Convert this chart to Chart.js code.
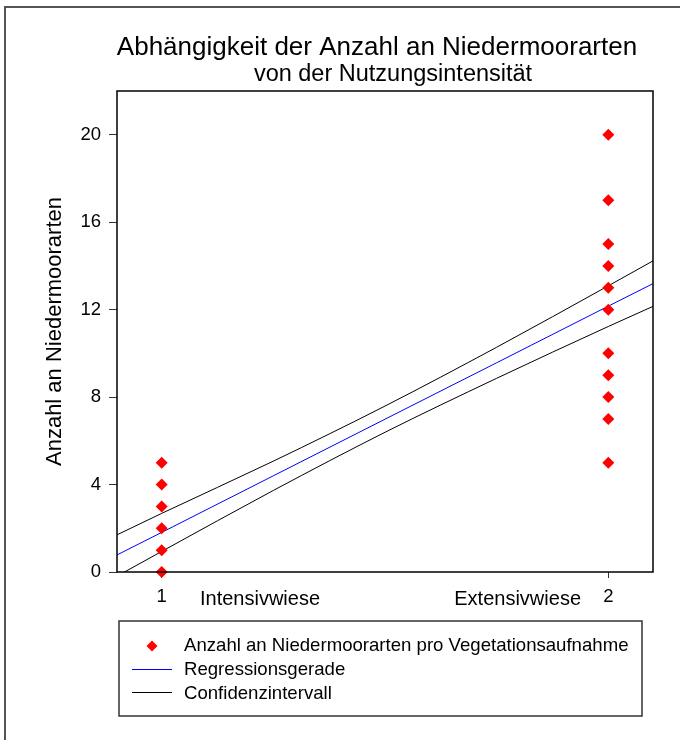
<!DOCTYPE html>
<html>
<head>
<meta charset="utf-8">
<script src="https://cdn.jsdelivr.net/npm/chart.js@4"></script>
<style>
  html, body { margin: 0; padding: 0; background: #fff; }
  #wrap { width: 680px; height: 740px; }
</style>
</head>
<body>
<div id="wrap"><canvas id="chart" width="680" height="740"></canvas></div>
<script>
// Data
const titleLines = ['Abhängigkeit der Anzahl an Niedermoorarten', 'von der Nutzungsintensität'];
const yAxisTitle = 'Anzahl an Niedermoorarten';
const xTicks = [1, 2];
const xGroupLabels = ['Intensivwiese', 'Extensivwiese'];
const yTicks = [0, 4, 8, 12, 16, 20];
const seriesNames = ['Anzahl an Niedermoorarten pro Vegetationsaufnahme', 'Regressionsgerade', 'Confidenzintervall'];

const intensivValues = [0, 1, 2, 3, 4, 5];
const extensivValues = [5, 7, 8, 9, 10, 12, 13, 14, 15, 17, 20];

const lineX = [0.9, 1.0, 1.25, 1.5, 1.75, 2.0, 2.1];
const regression = [0.78, 1.81, 4.40, 6.99, 9.57, 12.16, 13.19];
const ciUpper = [1.70, 2.68, 5.07, 7.59, 10.28, 13.09, 14.23];
const ciLower = [-0.19, 0.94, 3.73, 6.39, 8.86, 11.23, 12.15];

const FONT = 'Arial, "Liberation Sans", sans-serif';

const points = intensivValues.map(v => ({x: xTicks[0], y: v}))
    .concat(extensivValues.map(v => ({x: xTicks[1], y: v})));
const toXY = arr => arr.map((v, i) => ({x: lineX[i], y: v}));

// Frame, titles, group labels and legend
const decorations = {
    id: 'decorations',
    afterDraw(chart) {
        const ctx = chart.ctx;
        const area = chart.chartArea;
        ctx.save();

        // outer frame
        ctx.strokeStyle = '#555';
        ctx.lineWidth = 2;
        ctx.strokeRect(5, 7, 700, 800);

        // plot box
        ctx.strokeStyle = '#000';
        ctx.lineWidth = 1.5;
        ctx.strokeRect(area.left, area.top, area.right - area.left, area.bottom - area.top);

        // title
        ctx.fillStyle = '#000';
        ctx.textAlign = 'center';
        ctx.textBaseline = 'alphabetic';
        ctx.font = '26px ' + FONT;
        ctx.fillText(titleLines[0], 377, 55);
        ctx.font = '23.5px ' + FONT;
        ctx.fillText(titleLines[1], 393, 81);

        // y axis title
        ctx.save();
        ctx.translate(55, (area.top + area.bottom) / 2);
        ctx.rotate(-Math.PI / 2);
        ctx.textBaseline = 'middle';
        ctx.font = '22px ' + FONT;
        ctx.fillText(yAxisTitle, 0, 0);
        ctx.restore();

        // group labels next to the x ticks
        ctx.font = '20px ' + FONT;
        ctx.textAlign = 'left';
        ctx.fillText(xGroupLabels[0], 200, 605);
        ctx.textAlign = 'right';
        ctx.fillText(xGroupLabels[1], 581, 605);

        // legend
        ctx.strokeStyle = '#333';
        ctx.lineWidth = 1.5;
        ctx.strokeRect(119, 621, 523, 95);
        ctx.fillStyle = '#ff0000';
        ctx.beginPath();
        ctx.moveTo(152, 640.5);
        ctx.lineTo(157.5, 646);
        ctx.lineTo(152, 651.5);
        ctx.lineTo(146.5, 646);
        ctx.closePath();
        ctx.fill();
        ctx.lineWidth = 1;
        ctx.strokeStyle = '#0000ff';
        ctx.beginPath();
        ctx.moveTo(132, 669.5);
        ctx.lineTo(172, 669.5);
        ctx.stroke();
        ctx.strokeStyle = '#000';
        ctx.beginPath();
        ctx.moveTo(132, 692.5);
        ctx.lineTo(172, 692.5);
        ctx.stroke();
        ctx.fillStyle = '#000';
        ctx.textAlign = 'left';
        ctx.font = '18.6px ' + FONT;
        ctx.fillText(seriesNames[0], 184, 651);
        ctx.fillText(seriesNames[1], 184, 675);
        ctx.fillText(seriesNames[2], 184, 699);

        ctx.restore();
    }
};

const ctx = document.getElementById('chart').getContext('2d');
new Chart(ctx, {
    type: 'scatter',
    data: {
        datasets: [
            {
                label: seriesNames[0],
                data: points,
                pointStyle: 'rectRot',
                pointRadius: 6,
                pointBackgroundColor: '#ff0000',
                pointBorderColor: '#ff0000',
                pointBorderWidth: 0,
                showLine: false,
                clip: false
            },
            {
                label: seriesNames[1],
                data: toXY(regression),
                showLine: true,
                borderColor: '#0000ff',
                borderWidth: 1,
                pointRadius: 0
            },
            {
                label: seriesNames[2],
                data: toXY(ciUpper),
                showLine: true,
                cubicInterpolationMode: 'monotone',
                borderColor: '#000',
                borderWidth: 1,
                pointRadius: 0
            },
            {
                label: seriesNames[2] + ' (unten)',
                data: toXY(ciLower),
                showLine: true,
                cubicInterpolationMode: 'monotone',
                borderColor: '#000',
                borderWidth: 1,
                pointRadius: 0
            }
        ]
    },
    options: {
        responsive: false,
        animation: false,
        devicePixelRatio: 1,
        layout: {
            padding: { left: 0, top: 91, right: 27, bottom: 0 }
        },
        plugins: {
            legend: { display: false },
            title: { display: false },
            tooltip: { enabled: false }
        },
        scales: {
            x: {
                type: 'linear',
                min: 0.9,
                max: 2.1,
                afterBuildTicks: scale => { scale.ticks = xTicks.map(v => ({value: v})); },
                afterFit: scale => { scale.height = 168; },
                border: { display: false },
                grid: { drawOnChartArea: false, drawTicks: true, tickLength: 6, color: '#333' },
                ticks: { color: '#000', font: { family: FONT, size: 18.5 }, padding: 8, maxRotation: 0 }
            },
            y: {
                type: 'linear',
                min: 0,
                max: 22,
                afterBuildTicks: scale => { scale.ticks = yTicks.map(v => ({value: v})); },
                afterFit: scale => { scale.width = 117; },
                border: { display: false },
                grid: { drawOnChartArea: false, drawTicks: true, tickLength: 8, color: '#333' },
                ticks: { color: '#000', font: { family: FONT, size: 18.5 }, padding: 8 }
            }
        }
    },
    plugins: [decorations]
});
</script>
</body>
</html>
